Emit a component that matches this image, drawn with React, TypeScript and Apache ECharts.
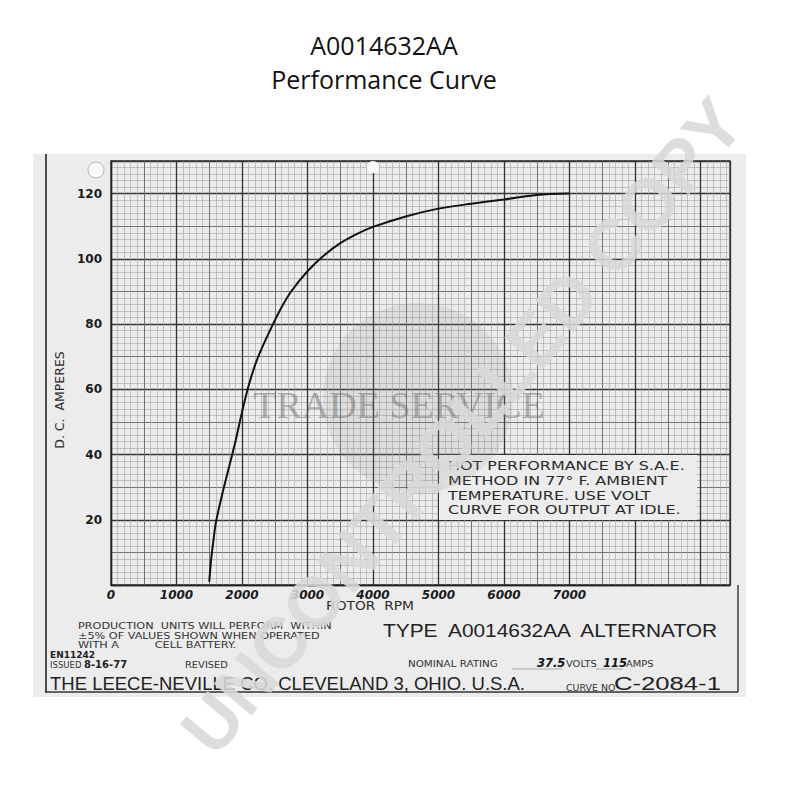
import React, { useEffect, useRef } from 'react';
import * as echarts from 'echarts';

const titleLines = ['A0014632AA', 'Performance Curve'];
const rpm = [1500, 1530, 1560, 1600, 1700, 1800, 1900, 2000, 2100, 2200, 2300, 2450, 2600, 2750, 3000, 3250, 3500, 3750, 4000, 4500, 5000, 5500, 6000, 6500, 7000];
const amps = [1, 8, 13, 19, 28, 36, 44, 53, 61, 67.5, 72.5, 79, 85, 90, 96.2, 101, 104.8, 107.6, 109.8, 113, 115.4, 116.9, 118.2, 119.6, 120];
const xTickLabels = ['0', '1000', '2000', '3000', '4000', '5000', '6000', '7000'];
const yTickLabels = ['20', '40', '60', '80', '100', '120'];
const noteLines = ['HOT PERFORMANCE BY S.A.E.', 'METHOD IN 77° F. AMBIENT', 'TEMPERATURE. USE VOLT', 'CURVE FOR OUTPUT AT IDLE.'];
const footNoteLines = ['PRODUCTION  UNITS WILL PERFORM  WITHIN', '±5% OF VALUES SHOWN WHEN OPERATED', 'WITH A          CELL BATTERY.'];

const X_MAX = 9450;
const Y_MAX = 130;
const SANS = "'DejaVu Sans', sans-serif";

function mkX(interval: number, color: string, width: number, major: boolean) {
  return {
    type: 'value', min: 0, max: X_MAX, interval, position: 'bottom', offset: 0,
    axisLine: { show: major, lineStyle: { color: '#222', width: 1.4 } },
    axisTick: { show: false },
    axisLabel: major
      ? {
          show: true, margin: 4, color: '#1a1a1a', fontFamily: SANS, fontWeight: 'bold', fontStyle: 'italic', fontSize: 12,
          formatter: (v: number) => (xTickLabels.includes(String(v)) ? String(v) : ''),
        }
      : { show: false },
    splitLine: { show: true, lineStyle: { color, width } },
  };
}
function mkY(interval: number, color: string, width: number, major: boolean) {
  return {
    type: 'value', min: 0, max: Y_MAX, interval, position: 'left', offset: 0,
    axisLine: { show: major, lineStyle: { color: '#222', width: 1.4 } },
    axisTick: { show: false },
    axisLabel: major
      ? {
          show: true, margin: 9, color: '#1a1a1a', fontFamily: SANS, fontWeight: 'bold', fontSize: 12,
          formatter: (v: number) => (yTickLabels.includes(String(v)) ? String(v) : ''),
        }
      : { show: false },
    name: major ? 'D. C.  AMPERES' : '',
    nameLocation: 'middle',
    nameRotate: 90,
    nameGap: 42,
    nameTextStyle: { fontFamily: SANS, fontSize: 12.5, color: '#2a2a2a', padding: [0, 54, 0, 0] },
    splitLine: { show: true, lineStyle: { color, width } },
  };
}

function txt(text: string, x: number, y: number, size: number, extra: any = {}) {
  return {
    type: 'text', x, y, z: 20, scaleX: extra.sx || 1,
    style: {
      text, fontSize: size, fontFamily: extra.family || SANS, fontWeight: extra.weight || 'normal',
      fontStyle: extra.italic ? 'italic' : 'normal',
      fill: extra.color || '#222', textAlign: extra.align || 'left', align: extra.align || 'left',
      textVerticalAlign: 'middle', verticalAlign: 'middle',
    },
  };
}

export default function App() {
  const ref = useRef<HTMLDivElement>(null);
  useEffect(() => {
    const chart = echarts.init(ref.current!, null, { renderer: 'svg' });
    const LIB = "'Liberation Sans', sans-serif";
    const graphics: any[] = [
      { type: 'rect', z: -10, shape: { x: 33, y: 154, width: 713, height: 543 }, style: { fill: '#ececec' } },
      { type: 'line', z: 5, shape: { x1: 46, y1: 154, x2: 46, y2: 692 }, style: { stroke: '#222', lineWidth: 1.6 } },
      { type: 'line', z: 5, shape: { x1: 45, y1: 692, x2: 738, y2: 692 }, style: { stroke: '#333', lineWidth: 1.4 } },
      { type: 'line', z: 5, shape: { x1: 738, y1: 585, x2: 738, y2: 692 }, style: { stroke: '#333', lineWidth: 1.4 } },
      { type: 'circle', z: 5, shape: { cx: 96, cy: 170, r: 8 }, style: { fill: '#f8f8f8', stroke: '#b5b5b5', lineWidth: 1 } },
      { type: 'circle', z: 5, shape: { cx: 373, cy: 167, r: 6 }, style: { fill: '#fbfbfb' } },
      txt(titleLines[0], 384, 45, 25, { family: "'Open Sans', sans-serif", align: 'center', color: '#111' }),
      txt(titleLines[1], 384, 79, 25, { family: "'Open Sans', sans-serif", align: 'center', color: '#111' }),
      // note box
      { type: 'rect', z: 10, shape: { x: 439, y: 455, width: 258, height: 65 }, style: { fill: '#ececec' } },
      ...noteLines.map((l, i) => txt(l, 448, 466 + i * 14.7, 12, { color: '#2a2a2a', sx: 1.33 })),
      txt('ROTOR  RPM', 370, 606, 12, { align: 'center', color: '#2a2a2a', sx: 1.15 }),
      ...footNoteLines.map((l, i) => txt(l, 78, 626 + i * 9.6, 9, { color: '#333', sx: 1.25 })),
      txt('EN11242', 50, 654.5, 9, { weight: 'bold', color: '#222' }),
      txt('ISSUED', 50, 664.5, 8.5, { color: '#333' }),
      txt('8-16-77', 84, 664.5, 10, { weight: 'bold', color: '#222' }),
      txt('REVISED', 185, 664.5, 9, { color: '#333', sx: 1.1 }),
      txt('TYPE  A0014632AA  ALTERNATOR', 383, 631, 18, { family: LIB, color: '#222', sx: 1.16 }),
      txt('NOMINAL RATING', 408, 664, 9, { color: '#333', sx: 1.15 }),
      { type: 'line', z: 5, shape: { x1: 512, y1: 669, x2: 562, y2: 669 }, style: { stroke: '#999', lineWidth: 0.8 } },
      txt('37.5', 537, 663, 11.5, { weight: 'bold', italic: true, color: '#111' }),
      txt('VOLTS', 566, 664, 9, { color: '#333', sx: 1.1 }),
      { type: 'line', z: 5, shape: { x1: 596, y1: 669, x2: 622, y2: 669 }, style: { stroke: '#999', lineWidth: 0.8 } },
      txt('115', 603, 663, 11.5, { weight: 'bold', italic: true, color: '#111' }),
      txt('AMPS', 626, 664, 9, { color: '#333', sx: 1.1 }),
      txt('THE LEECE-NEVILLE CO. CLEVELAND 3, OHIO. U.S.A.', 50, 683, 18.5, { family: LIB, color: '#222' }),
      txt('CURVE NO', 566, 688, 9, { color: '#333', sx: 1.05 }),
      txt('C-2084-1', 614, 684, 19, { family: LIB, color: '#222', sx: 1.35 }),
      // watermarks
      { type: 'circle', z: 30, shape: { cx: 418, cy: 398, r: 95 }, style: { fill: 'rgba(140,140,140,0.16)' } },
      txt('TRADE SERVICE', 399, 405, 38, { family: "'Liberation Serif', serif", align: 'center', color: 'rgba(110,110,110,0.5)' }),
      {
        type: 'text', x: 462, y: 426, z: 40, rotation: (50 * Math.PI) / 180,
        style: {
          text: 'UNCONTROLLED COPY', fontSize: 72, fontWeight: 'bold', fontFamily: LIB,
          fill: 'rgba(216,216,216,0.88)', textAlign: 'center', align: 'center', textVerticalAlign: 'middle', verticalAlign: 'middle',
        },
      },
    ];
    chart.setOption({
      animation: false,
      backgroundColor: '#ffffff',
      grid: { left: 111, right: 70, top: 161, bottom: 215, show: true, borderColor: '#2a2a2a', borderWidth: 1.3, backgroundColor: 'transparent' },
      xAxis: [mkX(100, '#a2a2a2', 0.6, false), mkX(500, '#6a6a6a', 0.9, false), mkX(1000, '#333333', 1.3, true)],
      yAxis: [mkY(2, '#a2a2a2', 0.6, false), mkY(10, '#6a6a6a', 0.9, false), mkY(20, '#333333', 1.3, true)],
      series: [
        {
          type: 'line', name: 'D.C. Amperes', xAxisIndex: 2, yAxisIndex: 2, smooth: 0.3, showSymbol: false,
          lineStyle: { color: '#111', width: 2 }, z: 15,
          data: rpm.map((r, i) => [r, amps[i]]),
        },
      ],
      graphic: { elements: graphics },
    });
    return () => chart.dispose();
  }, []);
  return <div ref={ref} style={{ position: 'absolute', left: 0, top: 0, width: 800, height: 800 }} />;
}
